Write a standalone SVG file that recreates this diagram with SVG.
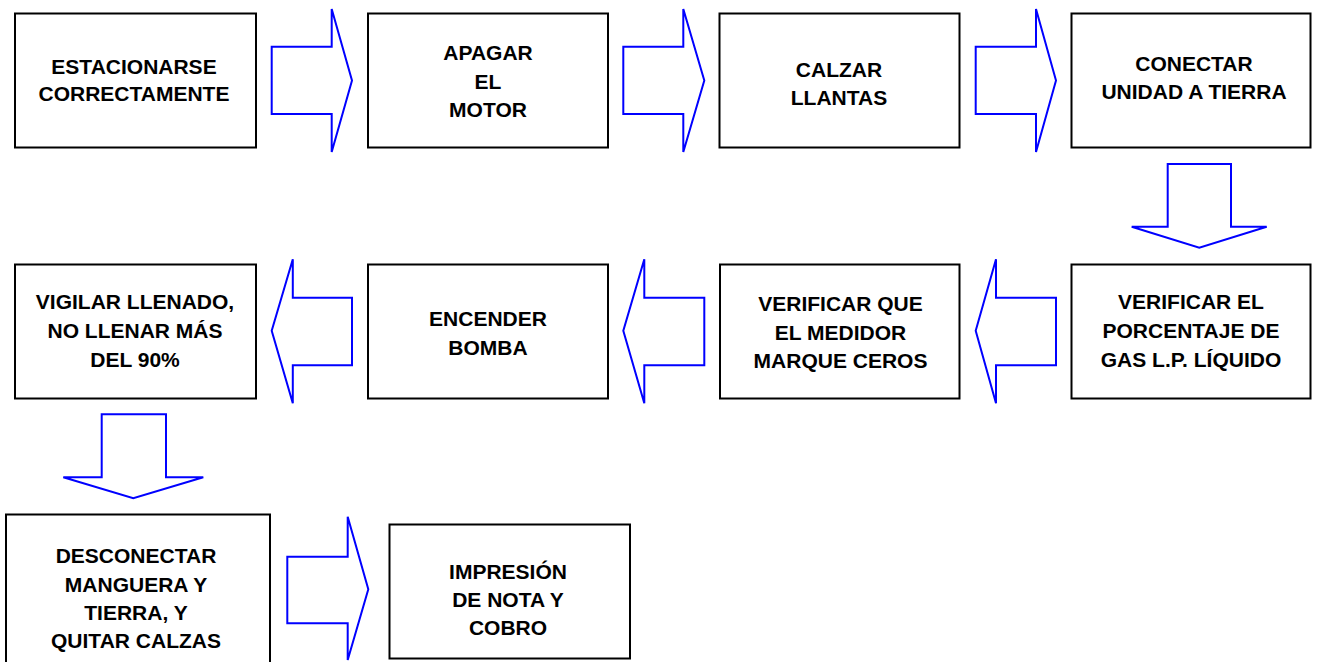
<svg xmlns="http://www.w3.org/2000/svg" width="1319" height="662" viewBox="0 0 1319 662">
<style>
.box{fill:#fff;stroke:#000;stroke-width:2}
.arr{fill:#fff;stroke:#0000ff;stroke-width:2;stroke-linejoin:miter}
text{font-family:"Liberation Sans",Arial,sans-serif;font-weight:bold;font-size:21px;text-anchor:middle;fill:#000}
</style>
<rect width="1319" height="662" fill="#fff"/>
<g id="connectors">
<polygon class="arr" points="271.7,46.7 331.7,46.7 331.7,9 352,80.5 331.7,152 331.7,114 271.7,114"/>
<polygon class="arr" points="623.3,46.7 683.3,46.7 683.3,9 704.3,80.5 683.3,152 683.3,114 623.3,114"/>
<polygon class="arr" points="975.7,46.7 1036,46.7 1036,9 1056,80.5 1036,152 1036,114 975.7,114"/>
<polygon class="arr" points="1167.7,164 1231,164 1231,226.7 1266.7,226.7 1199.3,247.7 1131.7,226.7 1167.7,226.7"/>
<polygon class="arr" points="1056,297.7 996,297.7 996,259.3 975.7,330.7 996,403.3 996,365.3 1056,365.3"/>
<polygon class="arr" points="704.3,297.7 644.3,297.7 644.3,259.3 623.3,330.7 644.3,403.3 644.3,365.3 704.3,365.3"/>
<polygon class="arr" points="352,297.7 292.8,297.7 292.8,259.3 271.7,330.7 292.8,403.3 292.8,365.3 352,365.3"/>
<polygon class="arr" points="101.7,414.3 166,414.3 166,477.3 203.3,477.3 133.3,498.3 63.3,477.3 101.7,477.3"/>
<polygon class="arr" points="287.3,556.7 347.7,556.7 347.7,516.7 368.3,589.3 347.7,660 347.7,623.3 287.3,623.3"/>
</g>
<g id="n1"><rect class="box" x="15" y="13.5" width="241" height="134"/><text x="134" y="74">ESTACIONARSE</text><text x="134" y="101">CORRECTAMENTE</text></g>
<g id="n2"><rect class="box" x="368" y="13.5" width="240" height="134"/><text x="488" y="60">APAGAR</text><text x="488" y="89">EL</text><text x="488" y="117">MOTOR</text></g>
<g id="n3"><rect class="box" x="719.5" y="13.5" width="240" height="134"/><text x="839" y="77">CALZAR</text><text x="839" y="105">LLANTAS</text></g>
<g id="n4"><rect class="box" x="1071.5" y="13.5" width="239" height="134"/><text x="1194" y="71">CONECTAR</text><text x="1194" y="99">UNIDAD A TIERRA</text></g>
<g id="n5"><rect class="box" x="1071.5" y="264.5" width="239" height="134"/><text x="1191" y="309">VERIFICAR EL</text><text x="1191" y="338">PORCENTAJE DE</text><text x="1191" y="367">GAS L.P. LÍQUIDO</text></g>
<g id="n6"><rect class="box" x="720" y="264.5" width="239.5" height="134"/><text x="840.5" y="311">VERIFICAR QUE</text><text x="840.5" y="340">EL MEDIDOR</text><text x="840.5" y="368">MARQUE CEROS</text></g>
<g id="n7"><rect class="box" x="368" y="264.5" width="240" height="134"/><text x="488" y="326">ENCENDER</text><text x="488" y="355">BOMBA</text></g>
<g id="n8"><rect class="box" x="15" y="264.5" width="241" height="134"/><text x="135" y="309">VIGILAR LLENADO,</text><text x="135" y="338">NO LLENAR MÁS</text><text x="135" y="367">DEL 90%</text></g>
<g id="n9"><rect class="box" x="6" y="514.5" width="264" height="152"/><text x="136" y="563">DESCONECTAR</text><text x="136" y="592">MANGUERA Y</text><text x="136" y="620">TIERRA, Y</text><text x="136" y="648">QUITAR CALZAS</text></g>
<g id="n10"><rect class="box" x="389.5" y="524.5" width="240.5" height="134"/><text x="508" y="579">IMPRESIÓN</text><text x="508" y="607">DE NOTA Y</text><text x="508" y="635">COBRO</text></g>
</svg>
